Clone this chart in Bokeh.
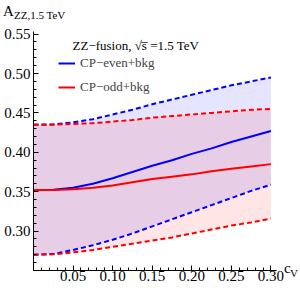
from bokeh.plotting import figure
from bokeh.models import (Range1d, FixedTicker, PrintfTickFormatter, Label,
                          Legend, LegendItem, Div)
from bokeh.layouts import column, row
from bokeh.embed import file_html
from bokeh.resources import INLINE

# ---- data ----
cv = [0.0, 0.025, 0.05, 0.075, 0.10, 0.125, 0.15, 0.175, 0.20, 0.225, 0.25, 0.275, 0.30]
even_mid = [0.352, 0.3525, 0.355, 0.360, 0.367, 0.375, 0.383, 0.390, 0.398, 0.405, 0.413, 0.420, 0.427]
even_up  = [0.435, 0.4355, 0.438, 0.442, 0.448, 0.454, 0.461, 0.467, 0.473, 0.479, 0.485, 0.490, 0.495]
even_lo  = [0.270, 0.271, 0.276, 0.282, 0.289, 0.297, 0.306, 0.315, 0.324, 0.333, 0.342, 0.351, 0.359]
odd_mid  = [0.352, 0.352, 0.353, 0.355, 0.358, 0.362, 0.366, 0.369, 0.372, 0.376, 0.379, 0.382, 0.385]
odd_up   = [0.435, 0.435, 0.436, 0.437, 0.439, 0.441, 0.444, 0.446, 0.448, 0.450, 0.452, 0.454, 0.455]
odd_lo   = [0.270, 0.2705, 0.273, 0.276, 0.280, 0.284, 0.288, 0.292, 0.297, 0.302, 0.307, 0.311, 0.316]

x_major = [0.05, 0.10, 0.15, 0.20, 0.25, 0.30]
x_minor = [round(0.01 * i, 2) for i in range(0, 31)]
y_major = [0.30, 0.35, 0.40, 0.45, 0.50, 0.55]
y_minor = [round(0.25 + 0.01 * i, 2) for i in range(0, 31)]

series_labels = ["CP\u2212even+bkg", "CP\u2212odd+bkg"]
title_text = "ZZ\u2212fusion, \u221as\u0305 =1.5 TeV"
y_title_main, y_title_sub = "A", "ZZ,1.5 TeV"
x_title_main, x_title_sub = "c", "V"

FONT = "'Liberation Serif', 'Times New Roman', serif"
BLUE = "#0000ff"
RED = "#ff0000"

XMAX = 0.307
YMIN, YMAX = 0.25, 0.5533
TOP_H = 22
RIGHT_W = 16
P_W = 300 - RIGHT_W
P_H = 290 - TOP_H

p = figure(width=P_W, height=P_H, output_backend="svg", toolbar_location=None,
           x_range=Range1d(0.0, XMAX), y_range=Range1d(YMIN, YMAX),
           min_border_left=33, min_border_right=P_W - 276,
           min_border_top=9, min_border_bottom=20)
p.outline_line_color = None
p.grid.visible = False
p.background_fill_color = "white"
p.border_fill_alpha = 0.0

# bands
p.varea(x=cv, y1=even_lo, y2=even_up, fill_color=BLUE, fill_alpha=0.1)
p.varea(x=cv, y1=odd_lo, y2=odd_up, fill_color=RED, fill_alpha=0.1)

# lines
r_even = p.line(cv, even_mid, line_color=BLUE, line_width=2)
p.line(cv, even_up, line_color=BLUE, line_width=2, line_dash="5 3")
p.line(cv, even_lo, line_color=BLUE, line_width=2, line_dash="5 3")
r_odd = p.line(cv, odd_mid, line_color=RED, line_width=2)
p.line(cv, odd_up, line_color=RED, line_width=2, line_dash="5 3")
p.line(cv, odd_lo, line_color=RED, line_width=2, line_dash="5 3")

# axes
for ax in (p.xaxis[0], p.yaxis[0]):
    ax.axis_line_color = "black"
    ax.axis_line_width = 1
    ax.major_tick_in = 5
    ax.major_tick_out = 0
    ax.minor_tick_in = 3
    ax.minor_tick_out = 0
    ax.major_tick_line_color = "black"
    ax.minor_tick_line_color = "black"
    ax.major_label_text_font = FONT
    ax.major_label_text_font_size = "15px"
    ax.major_label_text_color = "black"
    ax.major_label_standoff = 3
    ax.formatter = PrintfTickFormatter(format="%.2f")
p.xaxis[0].major_label_standoff = 0

p.xaxis[0].ticker = FixedTicker(ticks=x_major, minor_ticks=x_minor)
p.yaxis[0].ticker = FixedTicker(ticks=y_major, minor_ticks=y_minor)

# legend title
p.add_layout(Label(x=0.0, y=YMAX, x_offset=39, y_offset=-14, text=title_text,
                   text_font=FONT, text_font_size="13px", text_color="black",
                   text_baseline="alphabetic"))

legend = Legend(items=[LegendItem(label=series_labels[0], renderers=[r_even]),
                       LegendItem(label=series_labels[1], renderers=[r_odd])],
                location=(25, 175), padding=0, margin=0, spacing=8,
                glyph_width=17, glyph_height=16, label_height=16,
                label_standoff=5, label_text_font=FONT,
                label_text_font_size="13px", border_line_color=None,
                background_fill_alpha=0.0)
p.add_layout(legend, "center")

# y-axis title "A_{ZZ,1.5 TeV}" above the y axis
top = Div(text=('<div style="position:relative;height:%dpx;width:120px;">'
                '<span style="position:absolute;left:3px;top:6px;font-size:15px;line-height:11px;">%s</span>'
                '<span style="position:absolute;left:14px;top:11px;font-size:11px;line-height:8px;">%s</span>'
                '</div>') % (TOP_H, y_title_main, y_title_sub),
          width=300, height=TOP_H, margin=0,
          styles={"font-family": FONT, "color": "black"})

# x-axis title "c_V" to the right of the x axis end
right = Div(text=('<div style="position:relative;height:%dpx;width:%dpx;">'
                  '<span style="position:absolute;left:0px;top:%dpx;font-size:15px;line-height:11px;">%s</span>'
                  '<span style="position:absolute;left:6px;top:%dpx;font-size:11px;line-height:8px;">%s</span>'
                  '</div>') % (P_H, RIGHT_W, 241, x_title_main, 247, x_title_sub),
            width=RIGHT_W, height=P_H, margin=0,
            styles={"font-family": FONT, "color": "black"})

layout = column(top, row(p, right, spacing=0), spacing=0)
open("out.html", "w").write(file_html(layout, INLINE))
